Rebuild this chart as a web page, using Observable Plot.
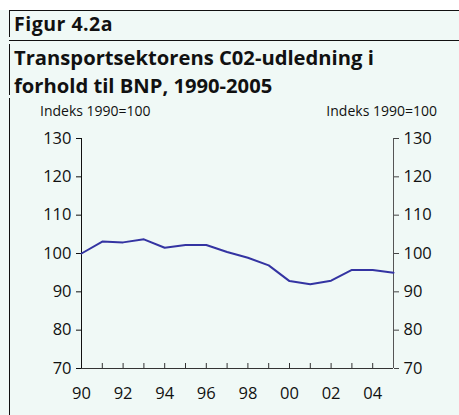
<!DOCTYPE html>
<html>
<head>
<meta charset="utf-8">
<script src="https://cdn.jsdelivr.net/npm/d3@7"></script>
<script src="https://cdn.jsdelivr.net/npm/@observablehq/plot@0.6"></script>
<style>
  html, body { margin: 0; padding: 0; background: #ffffff; }
  #wrap { position: relative; width: 459px; height: 415px; overflow: hidden; font-family: "Open Sans", Lato, sans-serif; color: #111; }
  #bg { position: absolute; left: 0; top: 10px; width: 459px; height: 405px; background: #f0f9f6; }
  .hline { position: absolute; left: 9px; width: 450px; height: 1px; background: #111; }
  .vline { position: absolute; left: 9px; width: 1px; background: #111; }
  #fig { position: absolute; left: 14px; top: 11px; font-size: 19.5px; font-weight: 700; line-height: 26px; letter-spacing: 0.5px; white-space: nowrap; }
  .title { position: absolute; left: 14px; font-size: 20.2px; font-weight: 700; line-height: 28px; white-space: nowrap; }
  .unit { position: absolute; top: 102px; font-size: 14px; line-height: 18px; white-space: nowrap; }
  #chart { position: absolute; left: 0; top: 100px; }
</style>
</head>
<body>
<div id="wrap">
  <div id="bg"></div>
  <div class="hline" style="top:10px"></div>
  <div class="hline" style="top:40px"></div>
  <div class="vline" style="top:10px;height:27px"></div>
  <div class="vline" style="top:44px;height:51px"></div>
  <div class="vline" style="top:98px;height:317px"></div>
  <div id="fig">Figur 4.2a</div>
  <div class="title" style="top:43px">Transportsektorens C02-udledning i</div>
  <div class="title" style="top:71px">forhold til BNP, 1990-2005</div>
  <div class="unit" style="left:40px">Indeks 1990=100</div>
  <div class="unit" style="right:22px">Indeks 1990=100</div>
  <div id="chart"></div>
</div>
<script>
const years = [1990,1991,1992,1993,1994,1995,1996,1997,1998,1999,2000,2001,2002,2003,2004,2005];
const values = [100,103.1,102.9,103.7,101.5,102.2,102.2,100.4,98.9,96.9,92.8,92.0,92.9,95.7,95.7,95.0];
const yTicks = [70,80,90,100,110,120,130];
const xLabelYears = [1990,1992,1994,1996,1998,2000,2002,2004];

const data = years.map((y, i) => ({year: y, value: values[i]}));

const chart = Plot.plot({
  width: 459,
  height: 315,
  marginTop: 38,
  marginBottom: 47,
  marginLeft: 81,
  marginRight: 66,
  x: {domain: [1990, 2005]},
  y: {domain: [70, 130]},
  style: {background: "transparent", fontFamily: "'Open Sans', Lato, sans-serif", fontSize: "16.5px", color: "#111"},
  marks: [
    Plot.axisY({anchor: "left", ticks: yTicks, tickSize: 5, tickPadding: 5, label: null, stroke: "#111"}),
    Plot.axisY({anchor: "right", ticks: yTicks, tickSize: 5, tickPadding: 5, label: null, stroke: "#444"}),
    Plot.axisX({ticks: years, tickSize: -5, tickFormat: () => "", label: null, stroke: "#333"}),
    Plot.axisX({ticks: xLabelYears, tickSize: 0, tickPadding: 19, tickFormat: d => String(d).slice(2), label: null}),
    Plot.ruleX([1990], {stroke: "#111"}),
    Plot.ruleX([2005], {stroke: "#555"}),
    Plot.ruleY([70], {stroke: "#333"}),
    Plot.line(data, {x: "year", y: "value", stroke: "#3434a2", strokeWidth: 2})
  ]
});
document.getElementById("chart").appendChild(chart);
</script>
</body>
</html>
